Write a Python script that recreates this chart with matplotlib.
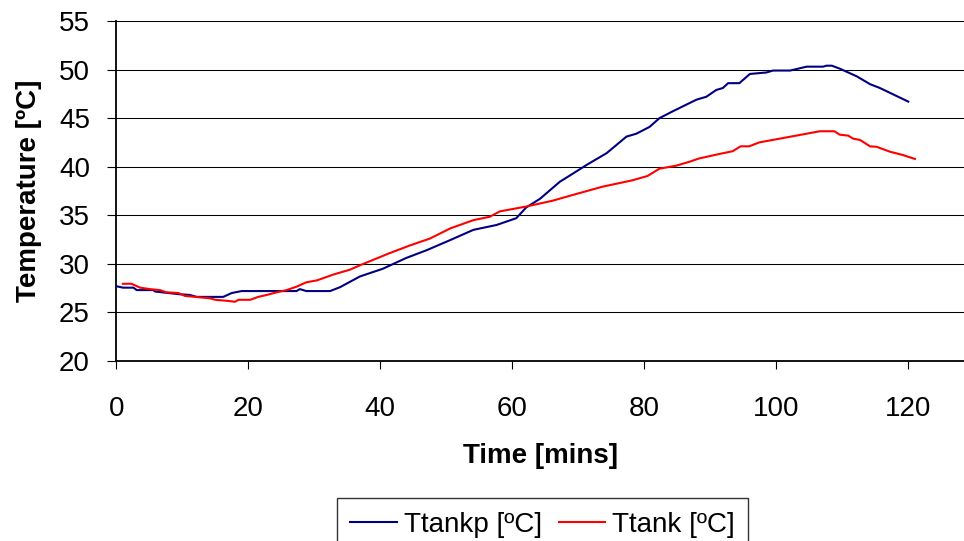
import matplotlib
matplotlib.use("Agg")
import matplotlib.pyplot as plt

# Data
time_tankp = [0, 1, 2.6, 3.1, 5.6, 5.9, 9.6, 11.1, 12.2, 16.2, 17.5, 19.0, 27.3, 27.8, 28.8,
              32.4, 33.9, 36.9, 40.4, 43.9, 47.0, 50.6, 54.1, 57.6, 60.6, 62.1, 64.2, 67.2,
              69.2, 71.3, 74.3, 77.3, 78.8, 80.8, 82.3, 84.3, 87.9, 89.4, 90.9, 91.9, 92.7,
              94.4, 96.0, 98.5, 99.5, 102.1, 104.6, 107.1, 107.6, 108.4, 109.6, 112.2, 114.2,
              115.7, 117.7, 120.0]
temp_tankp = [27.7, 27.55, 27.55, 27.3, 27.3, 27.15, 26.87, 26.8, 26.6, 26.6, 27.0, 27.2, 27.2,
              27.4, 27.2, 27.2, 27.6, 28.7, 29.5, 30.6, 31.4, 32.45, 33.5, 34.0, 34.7, 35.8,
              36.7, 38.45, 39.3, 40.2, 41.4, 43.1, 43.4, 44.1, 45.0, 45.7, 46.9, 47.2, 47.9,
              48.1, 48.6, 48.6, 49.55, 49.7, 49.9, 49.9, 50.3, 50.3, 50.4, 50.4, 50.1, 49.3,
              48.5, 48.1, 47.45, 46.7]

time_tank = [1.0, 2.3, 3.6, 5.1, 6.6, 7.6, 9.4, 10.4, 12.7, 14.2, 15.0, 16.7, 18.0, 18.5, 20.3,
             21.5, 22.8, 24.3, 25.8, 27.3, 28.8, 30.4, 32.9, 35.4, 36.9, 41.4, 44.5, 47.5,
             50.6, 54.1, 56.6, 58.1, 62.1, 66.1, 69.2, 73.7, 78.2, 80.5, 82.3, 84.8, 86.8,
             88.3, 91.3, 93.4, 94.6, 95.9, 97.4, 99.4, 101.4, 104.6, 106.6, 108.8, 109.6,
             110.9, 111.6, 112.7, 114.2, 115.2, 117.2, 119.2, 121.0]
temp_tank = [27.95, 27.95, 27.55, 27.4, 27.3, 27.07, 27.0, 26.7, 26.55, 26.45, 26.3, 26.2, 26.1,
             26.3, 26.3, 26.6, 26.8, 27.07, 27.3, 27.65, 28.1, 28.3, 28.9, 29.4, 29.85, 31.1,
             31.9, 32.6, 33.65, 34.5, 34.85, 35.4, 35.9, 36.5, 37.1, 37.95, 38.6, 39.05, 39.8,
             40.1, 40.5, 40.85, 41.3, 41.6, 42.1, 42.1, 42.5, 42.75, 43.0, 43.4, 43.65, 43.65,
             43.3, 43.2, 42.9, 42.75, 42.1, 42.05, 41.55, 41.2, 40.8]

series_labels = ["Ttankp [ºC]", "Ttank [ºC]"]
x_ticks = [0, 20, 40, 60, 80, 100, 120]
y_ticks = [20, 25, 30, 35, 40, 45, 50, 55]

plt.rcParams['font.family'] = ['Liberation Sans', 'DejaVu Sans']

fig = plt.figure(figsize=(9.64, 5.41), dpi=100)
ax = fig.add_axes([116.3 / 964, 1 - 361 / 541, 1 - 116.3 / 964, (361 - 21) / 541])

for yv in y_ticks[1:]:
    ax.axhline(yv, color='black', lw=0.75, zorder=1)

l1, = ax.plot(time_tankp, temp_tankp, color='#000080', lw=1.5, zorder=3)
l2, = ax.plot(time_tank, temp_tank, color='#FF0000', lw=1.5, zorder=3)

ax.set_xlim(0, (964 - 116.3) / 6.6)
ax.set_ylim(20, 55)
ax.set_xticks(x_ticks)
ax.set_yticks(y_ticks)

for s in ['top', 'right']:
    ax.spines[s].set_visible(False)
for s in ['left', 'bottom']:
    ax.spines[s].set_linewidth(1.3)
    ax.spines[s].set_color('black')

ax.tick_params(axis='y', direction='out', length=6.5, width=0.8, labelsize=20, pad=12.5)
ax.tick_params(axis='x', direction='out', length=6, width=0.8, labelsize=20, pad=19)

ax.set_xlabel("Time [mins]", fontsize=20, fontweight='bold', labelpad=15)
ax.set_ylabel("Temperature [ºC]", fontsize=20, fontweight='bold', labelpad=12.5)

leg = fig.legend([l1, l2], series_labels, loc='upper center',
                 bbox_to_anchor=(542.5 / 964, 1 - 498 / 541), ncol=2, fontsize=20,
                 frameon=True, fancybox=False, handlelength=1.68, handletextpad=0.24,
                 columnspacing=0.6, borderpad=0.5, borderaxespad=0)
leg.get_frame().set_edgecolor('black')
leg.get_frame().set_linewidth(1.0)
for h in leg.get_lines():
    h.set_linewidth(1.5)

fig.savefig("out.png", dpi=100)
